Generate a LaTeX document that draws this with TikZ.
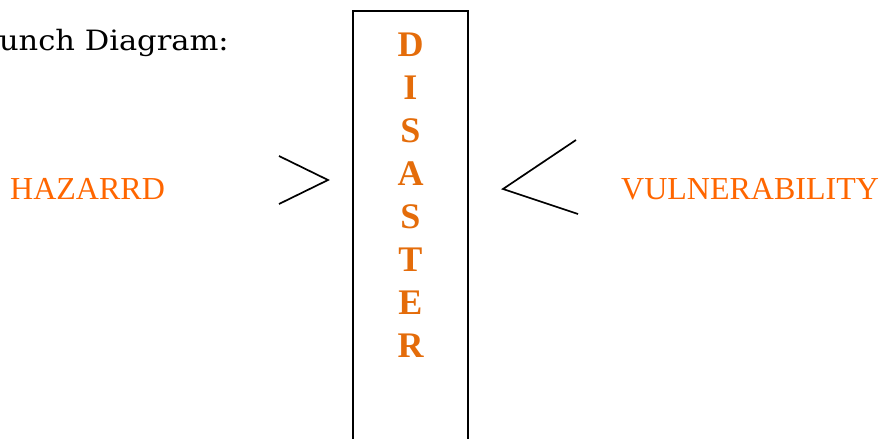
\documentclass[tikz,border=0pt]{standalone}
\usepackage{fontspec}
\setmainfont{Liberation Serif}
\newfontfamily\titlefont{DejaVu Serif}
\definecolor{hazorange}{RGB}{255,102,0}
\definecolor{disorange}{RGB}{228,108,10}
\begin{document}
\begin{tikzpicture}[x=1pt,y=-1pt,
  lbl/.style={inner sep=0pt, anchor=base west, text=hazorange, font=\fontsize{32}{38}\selectfont},
  letter/.style={inner sep=0pt, anchor=base, text=disorange, font=\fontsize{36}{43}\selectfont\bfseries},
  shape line/.style={line width=1.5pt, black},
]
\useasboundingbox (0,0) rectangle (884,439);
\node[inner sep=0pt, anchor=base east, font=\titlefont\fontsize{28}{32}\selectfont] (title) at (229,50) {\scalebox{1.09}[1]{unch Diagram:}};
\draw[shape line] (353,460) -- (353,11) -- (468,11) -- (468,460);
\foreach \l [count=\i] in {D,I,S,A,S,T,E,R} {
  \node[letter] (L\i) at (410.5,{56+43*(\i-1)}) {\l};
}
\node[lbl] (haz) at (10,199) {HAZARRD};
\node[lbl] (vul) at (621,199) {VULNERABILITY};
\coordinate (a1) at (279,156);
\coordinate (a2) at (328,180);
\coordinate (a3) at (279,204);
\draw[shape line, line width=1.7pt, line join=miter] (a1) -- (a2) -- (a3);
\coordinate (b1) at (576,140);
\coordinate (b2) at (503,189);
\coordinate (b3) at (578,214);
\draw[shape line, line width=1.7pt, line join=miter] (b1) -- (b2) -- (b3);
\end{tikzpicture}
\end{document}
